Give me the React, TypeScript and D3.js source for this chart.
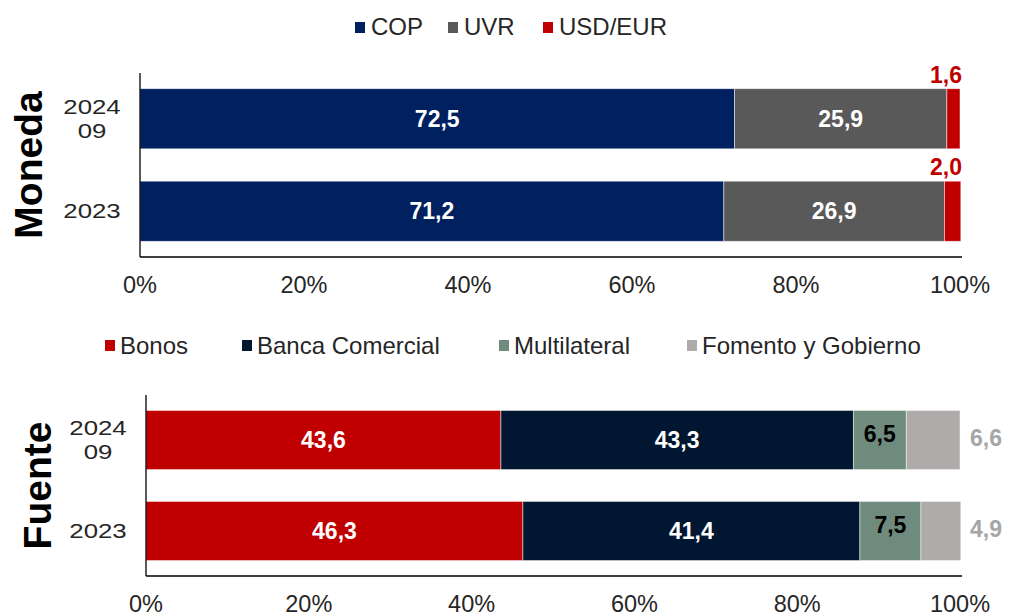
import React from "react";
import * as d3 from "d3";

const categories = ["2024\n09", "2023"];

const monedaSeries = ["COP", "UVR", "USD/EUR"];
const copValues = [72.5, 71.2];
const uvrValues = [25.9, 26.9];
const usdValues = [1.6, 2.0];
const monedaColors = ["#002060", "#595959", "#C00000"];

const fuenteSeries = ["Bonos", "Banca Comercial", "Multilateral", "Fomento y Gobierno"];
const bonosValues = [43.6, 46.3];
const bancaValues = [43.3, 41.4];
const multiValues = [6.5, 7.5];
const fomentoValues = [6.6, 4.9];
const fuenteColors = ["#C00000", "#001631", "#6E8B7D", "#AFABAB"];

const tickValues = [0, 20, 40, 60, 80, 100];

const FONT = "'Liberation Sans', Arial, sans-serif";
const fmt = (v: number) => v.toFixed(1).replace(".", ",");

type Panel = {
  title: string;
  titleX: number;
  series: string[];
  values: number[][];
  colors: string[];
  x0: number;
  x1: number;
  yTop: number;
  yBot: number;
  tickY: number;
  catX: number;
};

function StackedPanel({ p }: { p: Panel }) {
  const x = d3.scaleLinear().domain([0, 100]).range([p.x0, p.x1]);
  const y = d3
    .scaleBand<string>()
    .domain(categories)
    .range([p.yTop, p.yBot])
    .paddingInner(0.35)
    .paddingOuter(0.17);
  const rows = categories.map((c, i) => {
    const o: any = { cat: c };
    p.series.forEach((s, j) => (o[s] = p.values[j][i]));
    return o;
  });
  const stack = d3.stack<any>().keys(p.series)(rows);
  const bw = y.bandwidth();
  const isMoneda = p.title === "Moneda";

  return (
    <g>
      {stack.map((layer, j) =>
        layer.map((seg, i) => {
          const cat = categories[i];
          const yy = y(cat)!;
          const xa = x(seg[0]);
          const xb = x(seg[1]);
          const val = p.values[j][i];
          let label: React.ReactNode = null;
          if (isMoneda) {
            if (j < 2) {
              label = (
                <text x={(xa + xb) / 2} y={yy + bw / 2 + 8} textAnchor="middle" fill="#fff" fontWeight="bold" fontSize={23}>
                  {fmt(val)}
                </text>
              );
            } else {
              label = (
                <text x={x(100) + 2} y={yy - 6} textAnchor="end" fill="#C00000" fontWeight="bold" fontSize={23}>
                  {fmt(val)}
                </text>
              );
            }
          } else {
            if (j < 2) {
              label = (
                <text x={(xa + xb) / 2} y={yy + bw / 2 + 8} textAnchor="middle" fill="#fff" fontWeight="bold" fontSize={23}>
                  {fmt(val)}
                </text>
              );
            } else if (j === 2) {
              label = (
                <text x={(xa + xb) / 2} y={yy + bw / 2 + 2} textAnchor="middle" fill="#000" fontWeight="bold" fontSize={23}>
                  {fmt(val)}
                </text>
              );
            } else {
              label = (
                <text x={x(100) + 10} y={yy + bw / 2 + 6} textAnchor="start" fill="#A6A6A6" fontWeight="bold" fontSize={23}>
                  {fmt(val)}
                </text>
              );
            }
          }
          return (
            <g key={`${j}-${i}`}>
              <rect x={xa} y={yy} width={xb - xa} height={bw} fill={p.colors[j]} stroke="#ffffff" strokeOpacity={0.6} strokeWidth={0.8} />
              {label}
            </g>
          );
        })
      )}
      <line x1={p.x0} x2={p.x0} y1={p.yTop} y2={p.yBot} stroke="#000" strokeWidth={1.3} />
      <line x1={p.x0} x2={p.x1 + 2} y1={p.yBot} y2={p.yBot} stroke="#000" strokeWidth={1.3} />
      {x.ticks(5).filter((t) => tickValues.includes(t)).map((t) => (
        <text key={t} x={x(t)} y={p.tickY} textAnchor="middle" fontSize={23.5} fill="#262626">
          {t + "%"}
        </text>
      ))}
      {categories.map((c) => {
        const lines = c.split("\n");
        const cy = y(c)! + bw / 2;
        return (
          <g key={c} transform={`translate(${p.catX},0) scale(1.26,1)`}>
            {lines.map((ln, k) => (
              <text
                key={k}
                x={0}
                y={cy + 7 + (k - (lines.length - 1) / 2) * 24}
                textAnchor="middle"
                fontSize={20.5}
                fill="#262626"
              >
                {ln}
              </text>
            ))}
          </g>
        );
      })}
      <text
        transform={`translate(${p.titleX},${(p.yTop + p.yBot) / 2}) rotate(-90)`}
        textAnchor="middle"
        fontWeight="bold"
        fontSize={39}
        fill="#000"
      >
        {p.title}
      </text>
    </g>
  );
}

export default function App() {
  const top: Panel = {
    title: "Moneda",
    titleX: 42,
    series: monedaSeries,
    values: [copValues, uvrValues, usdValues],
    colors: monedaColors,
    x0: 140,
    x1: 960,
    yTop: 73,
    yBot: 257,
    tickY: 293,
    catX: 92,
  };
  const bottom: Panel = {
    title: "Fuente",
    titleX: 51,
    series: fuenteSeries,
    values: [bonosValues, bancaValues, multiValues, fomentoValues],
    colors: fuenteColors,
    x0: 146,
    x1: 960,
    yTop: 395,
    yBot: 576,
    tickY: 612,
    catX: 98,
  };
  const topLegendX = [355, 448, 543];
  const botLegendX = [105, 242, 499, 687];
  return (
    <svg width={1011} height={616} style={{ position: "absolute", left: 0, top: 0, fontFamily: FONT }}>
      <rect width={1011} height={616} fill="#fff" />
      {monedaSeries.map((s, i) => (
        <g key={s}>
          <rect x={topLegendX[i]} y={22} width={10} height={11} fill={monedaColors[i]} />
          <text x={topLegendX[i] + 16} y={35} fontSize={24} fill="#262626">
            {s}
          </text>
        </g>
      ))}
      {fuenteSeries.map((s, i) => (
        <g key={s}>
          <rect x={botLegendX[i]} y={340} width={10} height={11} fill={fuenteColors[i]} />
          <text x={botLegendX[i] + 15} y={354} fontSize={24} fill="#262626">
            {s}
          </text>
        </g>
      ))}
      <StackedPanel p={top} />
      <StackedPanel p={bottom} />
    </svg>
  );
}
